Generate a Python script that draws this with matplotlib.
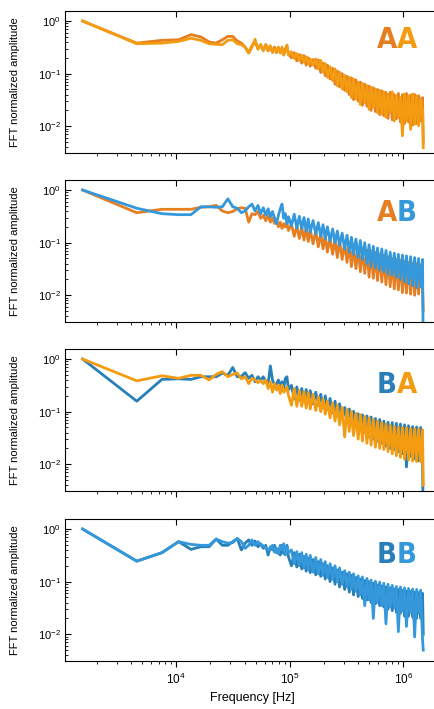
import matplotlib
matplotlib.use("Agg")
import matplotlib.pyplot as plt
from matplotlib import font_manager
from matplotlib.ticker import LogLocator, NullFormatter

plt.rcParams['font.family'] = ['Liberation Sans', 'DejaVu Sans']
plt.rcParams['mathtext.fontset'] = 'custom'
plt.rcParams['mathtext.rm'] = 'Liberation Sans'

# frequency axis of the spectra (kHz)
freq_khz = [1.5, 4.5, 7.5, 10.5, 13.5, 16.5, 19.5, 22.5, 25.5, 28.5, 31.5, 34.5, 37.5,
            40.5, 43.5, 46.5, 49.5, 52.5, 55.5, 58.5, 61.5, 64.5, 67.5, 70.5, 73.5, 76.5,
            79.5, 82.5, 85.5, 88.5, 91.5, 94.5, 97.5,
            103.5, 109.5, 115.5, 121.5, 127.5, 133.5, 139.5, 145.5, 151.5, 160.5, 169.5,
            178.5, 187.5, 196.5, 205.5, 214.5, 226.5, 238.5, 250.5, 262.5, 274.5, 289.5,
            304.5, 319.5, 334.5, 349.5, 364.5, 382.5, 400.5, 418.5, 436.5, 457.5, 478.5,
            499.5, 520.5, 544.5, 568.5, 592.5, 619.5, 646.5, 673.5, 703.5, 733.5, 766.5,
            799.5, 832.5, 868.5, 904.5, 943.5, 982.5, 1024.5, 1066.5, 1111.5, 1159.5,
            1207.5, 1258.5, 1309.5, 1363.5, 1420.5, 1477.5, 1498.5]

# normalized FFT amplitudes
aa_1 = [1.0, 0.38, 0.43, 0.44, 0.55, 0.50, 0.40, 0.38, 0.44, 0.51, 0.51, 0.42, 0.38, 0.32, 0.25,
        0.34, 0.40, 0.30, 0.34, 0.28, 0.35, 0.27, 0.32, 0.26, 0.32, 0.25, 0.30, 0.26, 0.28, 0.25,
        0.30, 0.32, 0.24,
        0.20, 0.25, 0.174, 0.23, 0.158, 0.22, 0.145, 0.20, 0.138, 0.186, 0.126, 0.182, 0.105,
        0.158, 0.091, 0.145, 0.079, 0.126, 0.063, 0.112, 0.056, 0.10, 0.048, 0.089, 0.040,
        0.083, 0.032, 0.076, 0.030, 0.069, 0.025, 0.063, 0.024, 0.058, 0.020, 0.054, 0.019,
        0.050, 0.0166, 0.047, 0.0158, 0.044, 0.0141, 0.044, 0.0132, 0.040, 0.0138, 0.042,
        0.012, 0.040, 0.0112, 0.042, 0.012, 0.039, 0.0105, 0.040, 0.0112, 0.038, 0.0126,
        0.035, 0.005]
aa_2 = [1.0, 0.37, 0.38, 0.41, 0.47, 0.43, 0.37, 0.36, 0.355, 0.43, 0.44, 0.37, 0.355, 0.32,
        0.245, 0.32, 0.45, 0.29, 0.36, 0.27, 0.36, 0.28, 0.34, 0.25, 0.30, 0.26, 0.32, 0.245,
        0.32, 0.224, 0.27, 0.35, 0.224,
        0.26, 0.195, 0.24, 0.178, 0.224, 0.166, 0.209, 0.155, 0.19, 0.145, 0.19, 0.123, 0.178,
        0.107, 0.155, 0.085, 0.135, 0.074, 0.123, 0.059, 0.107, 0.051, 0.093, 0.045, 0.085,
        0.035, 0.079, 0.033, 0.069, 0.026, 0.065, 0.028, 0.059, 0.021, 0.055, 0.023, 0.051,
        0.018, 0.048, 0.017, 0.045, 0.0148, 0.041, 0.018, 0.045, 0.0126, 0.038, 0.0148, 0.035,
        0.0066, 0.041, 0.0126, 0.038, 0.0087, 0.041, 0.011, 0.038, 0.0102, 0.033, 0.020, 0.0039]
ab_1 = [1.0, 0.37, 0.43, 0.43, 0.43, 0.47, 0.48, 0.51, 0.40, 0.37, 0.39, 0.44, 0.46, 0.45, 0.245,
        0.355, 0.34, 0.39, 0.29, 0.33, 0.26, 0.33, 0.245, 0.295, 0.23, 0.26, 0.20, 0.245, 0.186,
        0.23, 0.20, 0.23, 0.17,
        0.224, 0.132, 0.209, 0.12, 0.20, 0.112, 0.19, 0.105, 0.178, 0.095, 0.166, 0.083, 0.151,
        0.076, 0.138, 0.066, 0.126, 0.060, 0.117, 0.052, 0.110, 0.048, 0.10, 0.042, 0.093,
        0.035, 0.087, 0.032, 0.079, 0.028, 0.076, 0.026, 0.072, 0.022, 0.069, 0.021, 0.065,
        0.019, 0.060, 0.0178, 0.058, 0.0158, 0.054, 0.0145, 0.050, 0.0132, 0.048, 0.0126,
        0.046, 0.0112, 0.044, 0.011, 0.042, 0.0105, 0.041, 0.010, 0.040, 0.0105, 0.038, 0.0126,
        0.005]
ab_2 = [1.0, 0.45, 0.355, 0.34, 0.34, 0.48, 0.48, 0.47, 0.48, 0.68, 0.48, 0.45, 0.37, 0.40, 0.48,
        0.54, 0.40, 0.51, 0.355, 0.46, 0.33, 0.44, 0.31, 0.39, 0.29, 0.23, 0.33, 0.44, 0.54, 0.29,
        0.355, 0.23, 0.31,
        0.209, 0.347, 0.19, 0.316, 0.182, 0.30, 0.166, 0.282, 0.158, 0.263, 0.145, 0.24, 0.132,
        0.219, 0.117, 0.20, 0.107, 0.182, 0.10, 0.166, 0.089, 0.151, 0.076, 0.138, 0.066,
        0.126, 0.060, 0.117, 0.052, 0.110, 0.048, 0.10, 0.040, 0.091, 0.035, 0.085, 0.033,
        0.079, 0.030, 0.076, 0.028, 0.071, 0.025, 0.066, 0.024, 0.063, 0.022, 0.060, 0.020,
        0.058, 0.018, 0.056, 0.0166, 0.054, 0.0151, 0.052, 0.0138, 0.050, 0.0145, 0.048, 0.0006]
ba_1 = [1.0, 0.158, 0.41, 0.42, 0.41, 0.46, 0.46, 0.46, 0.54, 0.49, 0.69, 0.46, 0.47, 0.55, 0.43,
        0.49, 0.37, 0.46, 0.40, 0.46, 0.37, 0.34, 0.74, 0.40, 0.32, 0.34, 0.40, 0.29, 0.37, 0.275,
        0.43, 0.46, 0.26,
        0.316, 0.174, 0.295, 0.166, 0.275, 0.158, 0.263, 0.155, 0.251, 0.141, 0.234, 0.132,
        0.214, 0.12, 0.20, 0.11, 0.178, 0.095, 0.158, 0.083, 0.141, 0.072, 0.12, 0.063, 0.112,
        0.056, 0.102, 0.050, 0.091, 0.045, 0.087, 0.040, 0.083, 0.033, 0.079, 0.030, 0.074,
        0.0275, 0.071, 0.025, 0.066, 0.022, 0.063, 0.020, 0.062, 0.019, 0.060, 0.0174, 0.058,
        0.0158, 0.056, 0.0089, 0.054, 0.0141, 0.052, 0.0126, 0.051, 0.0117, 0.050, 0.0112, 0.0006]
ba_2 = [1.0, 0.385, 0.48, 0.43, 0.49, 0.49, 0.40, 0.51, 0.575, 0.46, 0.51, 0.54, 0.42, 0.46, 0.34,
        0.43, 0.40, 0.355, 0.39, 0.34, 0.40, 0.275, 0.37, 0.234, 0.34, 0.257, 0.32, 0.22, 0.32,
        0.234, 0.257, 0.295, 0.204,
        0.132, 0.275, 0.126, 0.251, 0.126, 0.24, 0.117, 0.229, 0.112, 0.214, 0.105, 0.19, 0.10,
        0.174, 0.089, 0.158, 0.076, 0.145, 0.066, 0.132, 0.056, 0.12, 0.033, 0.11, 0.042, 0.10,
        0.035, 0.093, 0.030, 0.087, 0.0275, 0.081, 0.025, 0.076, 0.023, 0.071, 0.021, 0.066,
        0.020, 0.062, 0.019, 0.058, 0.0174, 0.055, 0.0158, 0.052, 0.0145, 0.050, 0.0135, 0.050,
        0.0126, 0.049, 0.012, 0.048, 0.0115, 0.047, 0.0112, 0.047, 0.0112, 0.045, 0.004]
bb_1 = [1.0, 0.245, 0.355, 0.575, 0.41, 0.46, 0.46, 0.645, 0.49, 0.49, 0.575, 0.66, 0.40, 0.54,
        0.62, 0.49, 0.59, 0.46, 0.525, 0.43, 0.49, 0.32, 0.46, 0.40, 0.49, 0.355, 0.42, 0.32,
        0.49, 0.34, 0.40, 0.49, 0.295,
        0.20, 0.355, 0.19, 0.331, 0.174, 0.30, 0.158, 0.282, 0.148, 0.263, 0.135, 0.24, 0.126,
        0.219, 0.112, 0.20, 0.10, 0.182, 0.089, 0.166, 0.079, 0.151, 0.071, 0.141, 0.063,
        0.132, 0.056, 0.12, 0.052, 0.112, 0.048, 0.105, 0.045, 0.10, 0.040, 0.093, 0.038,
        0.087, 0.035, 0.083, 0.033, 0.079, 0.030, 0.076, 0.028, 0.072, 0.026, 0.071, 0.025,
        0.068, 0.022, 0.066, 0.022, 0.065, 0.021, 0.063, 0.020, 0.062, 0.020, 0.060, 0.010]
bb_2 = [1.0, 0.245, 0.355, 0.575, 0.51, 0.49, 0.49, 0.645, 0.575, 0.54, 0.55, 0.66, 0.575, 0.43,
        0.49, 0.62, 0.49, 0.575, 0.49, 0.48, 0.43, 0.40, 0.43, 0.49, 0.363, 0.43, 0.34, 0.49,
        0.40, 0.525, 0.32, 0.46, 0.355,
        0.40, 0.219, 0.372, 0.20, 0.355, 0.182, 0.331, 0.166, 0.316, 0.151, 0.288, 0.141, 0.263,
        0.132, 0.24, 0.12, 0.219, 0.11, 0.20, 0.10, 0.182, 0.089, 0.162, 0.079, 0.151, 0.072,
        0.141, 0.066, 0.129, 0.056, 0.123, 0.035, 0.115, 0.045, 0.107, 0.020, 0.102, 0.040,
        0.098, 0.035, 0.093, 0.0158, 0.089, 0.033, 0.085, 0.032, 0.081, 0.0112, 0.079, 0.028,
        0.076, 0.0141, 0.074, 0.026, 0.072, 0.0089, 0.071, 0.025, 0.069, 0.0079, 0.005]

labels = ['AA', 'AB', 'BA', 'BB']

carrot = '#E67E22'
orange = '#F39C12'
blue = '#3498DB'
dblue = '#2980B9'

freq = [f * 1000 for f in freq_khz]

panels = [
    (aa_1, carrot, aa_2, orange, 0.796),
    (ab_1, carrot, ab_2, blue, 0.768),
    (ba_1, dblue, ba_2, orange, 0.746),
    (bb_1, dblue, bb_2, blue, 0.746),
]

# condensed bold font for the panel tags
names = {f.name for f in font_manager.fontManager.ttflist}
if 'Liberation Sans Narrow' in names:
    tag_font = dict(family='Liberation Sans Narrow', fontweight='bold')
else:
    tag_font = dict(family='DejaVu Sans', fontweight='bold', fontstretch='condensed')

fig = plt.figure(figsize=(4.34, 7.09), dpi=100)
W, H = 434, 709
tops = [11, 180, 349, 519]

axes = []
for i, (s1, c1, s2, c2, ty) in enumerate(panels):
    top = tops[i]
    ax = fig.add_axes([65 / W, 1 - (top + 142) / H, 371 / W, 142 / H])
    ax.plot(freq, s1, color=c1, lw=2.0)
    ax.plot(freq, s2, color=c2, lw=2.0)
    ax.set_xscale('log')
    ax.set_yscale('log')
    ax.set_xlim(1050, 1.94e6)
    ax.set_ylim(0.0031, 1.55)
    ax.spines['right'].set_visible(False)
    ax.yaxis.set_major_locator(LogLocator(base=10, numticks=10))
    ax.yaxis.set_minor_locator(LogLocator(base=10, subs=range(2, 10), numticks=20))
    ax.yaxis.set_minor_formatter(NullFormatter())
    ax.tick_params(axis='y', which='major', direction='in', length=4, width=0.8, labelsize=8, pad=3)
    ax.tick_params(axis='y', which='minor', direction='in', length=2.5, width=0.6)
    ax.tick_params(axis='x', which='major', direction='out', length=4, width=0.8,
                   top=True, labelsize=8.5, pad=4)
    ax.tick_params(axis='x', which='minor', direction='out', length=2.5, width=0.6, top=False)
    ax.set_ylabel('FFT normalized amplitude', fontsize=8)
    ax.yaxis.set_label_coords(-0.12, 0.5)
    if i < 3:
        ax.tick_params(axis='x', which='both', labelbottom=False)
    # two-coloured tag, e.g. "AB"
    ax.text(0.895, ty, labels[i][0], color=c1, fontsize=21, ha='right', va='center',
            transform=ax.transAxes, **tag_font)
    ax.text(0.895, ty, labels[i][1], color=c2, fontsize=21, ha='left', va='center',
            transform=ax.transAxes, **tag_font)
    axes.append(ax)

# top ticks point into the axes
for ax in axes:
    for t in ax.xaxis.get_major_ticks():
        t.tick2line.set_marker(3)

axes[-1].set_xlabel('Frequency [Hz]', fontsize=9)
axes[-1].xaxis.set_label_coords(0.504, -0.215)

fig.savefig('out.png', dpi=100)
